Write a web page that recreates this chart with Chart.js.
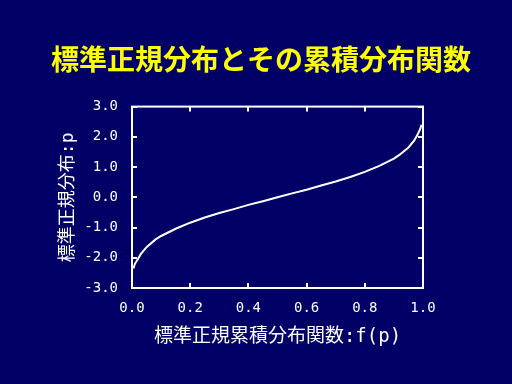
<!DOCTYPE html>
<html>
<head>
<meta charset="utf-8">
<script src="https://cdn.jsdelivr.net/npm/chart.js@4"></script>
<style>
  html, body { margin: 0; padding: 0; background: #000066; }
  #wrap { width: 512px; height: 384px; position: relative; }
</style>
</head>
<body>
<div id="wrap"><canvas id="chart"></canvas></div>
<script>
// cumulative probability f(p)
const probs = [0.005, 0.01, 0.02, 0.03, 0.05, 0.08, 0.1, 0.15, 0.2, 0.25, 0.3, 0.35, 0.4, 0.45, 0.5,
  0.55, 0.6, 0.65, 0.7, 0.75, 0.8, 0.85, 0.9, 0.92, 0.95, 0.97, 0.98, 0.99, 0.995];
// standard normal value p at each probability
const zValues = [-2.35, -2.2, -2.05, -1.88, -1.65, -1.4, -1.28, -1.04, -0.84, -0.67, -0.52, -0.39, -0.25, -0.13, 0.0,
  0.13, 0.25, 0.39, 0.52, 0.67, 0.84, 1.04, 1.28, 1.41, 1.65, 1.88, 2.05, 2.25, 2.4];

const xTicks = [0, 0.2, 0.4, 0.6, 0.8, 1.0];
const yTicks = [-3, -2, -1, 0, 1, 2, 3];

const NAVY = '#000066';
const WHITE = '#ffffff';
const YELLOW = '#ffff00';
const MONO = '"DejaVu Sans Mono", monospace';
const JP = '"Noto Sans CJK JP", sans-serif';
const MIXED = '"DejaVu Sans Mono", "Noto Sans CJK JP", sans-serif';

// frame + inward tick marks on all four sides
const framePlugin = {
  id: 'frame',
  beforeDraw(chart) {
    const { ctx, width, height } = chart;
    ctx.save();
    ctx.fillStyle = NAVY;
    ctx.fillRect(0, 0, width, height);
    ctx.restore();
  },
  afterDatasetsDraw(chart) {
    const { ctx, chartArea: a, scales } = chart;
    const len = 5;
    ctx.save();
    ctx.strokeStyle = WHITE;
    ctx.lineWidth = 2;
    ctx.strokeRect(a.left, a.top, a.right - a.left, a.bottom - a.top);
    ctx.beginPath();
    for (const v of xTicks) {
      const x = Math.round(scales.x.getPixelForValue(v));
      ctx.moveTo(x, a.bottom); ctx.lineTo(x, a.bottom - len);
      ctx.moveTo(x, a.top); ctx.lineTo(x, a.top + len);
    }
    for (const v of yTicks) {
      const y = Math.round(scales.y.getPixelForValue(v));
      ctx.moveTo(a.left, y); ctx.lineTo(a.left + len, y);
      ctx.moveTo(a.right, y); ctx.lineTo(a.right - len, y);
    }
    ctx.stroke();
    ctx.restore();
  },
};

new Chart(document.getElementById('chart'), {
  type: 'scatter',
  data: {
    datasets: [{
      data: probs.map((p, i) => ({ x: p, y: zValues[i] })),
      showLine: true,
      borderColor: WHITE,
      borderWidth: 2,
      pointRadius: 0,
      tension: 0,
    }],
  },
  options: {
    responsive: true,
    maintainAspectRatio: false,
    animation: false,
    layout: { padding: { left: 10, right: 0, top: 0, bottom: 0 } },
    plugins: {
      legend: { display: false },
      tooltip: { enabled: false },
      title: {
        display: true,
        align: 'center',
        text: '標準正規分布とその累積分布関数',
        color: YELLOW,
        font: { family: JP, size: 28, weight: 'bold' },
        padding: { top: 43, bottom: 30 },
      },
    },
    scales: {
      x: {
        type: 'linear',
        min: 0,
        max: 1,
        afterBuildTicks: s => { s.ticks = xTicks.map(v => ({ value: v })); },
        afterFit: s => { s.height = 96; },
        grid: { display: false, drawTicks: false },
        border: { display: false },
        ticks: {
          color: WHITE,
          font: { family: MONO, size: 14 },
          padding: 12,
          callback: v => v.toFixed(1),
        },
        title: {
          display: true,
          text: '標準正規累積分布関数:f(p)',
          color: WHITE,
          font: { family: MIXED, size: 19 },
          padding: { bottom: 36 },
        },
      },
      y: {
        min: -3,
        max: 3,
        afterBuildTicks: s => { s.ticks = yTicks.map(v => ({ value: v })); },
        afterFit: s => { s.width = 122; },
        grid: { display: false, drawTicks: false },
        border: { display: false },
        ticks: {
          color: WHITE,
          font: { family: MONO, size: 14 },
          padding: 14,
          callback: v => v.toFixed(1),
        },
        title: {
          display: true,
          text: '標準正規分布:p',
          color: WHITE,
          font: { family: MIXED, size: 18 },
          padding: { top: 48 },
        },
      },
      // empty right-hand axis that only reserves the right margin
      yRight: {
        position: 'right',
        min: -3,
        max: 3,
        afterFit: s => { s.width = 89; },
        grid: { display: false, drawTicks: false },
        border: { display: false },
        ticks: { display: false },
      },
    },
  },
  plugins: [framePlugin],
});
</script>
</body>
</html>
